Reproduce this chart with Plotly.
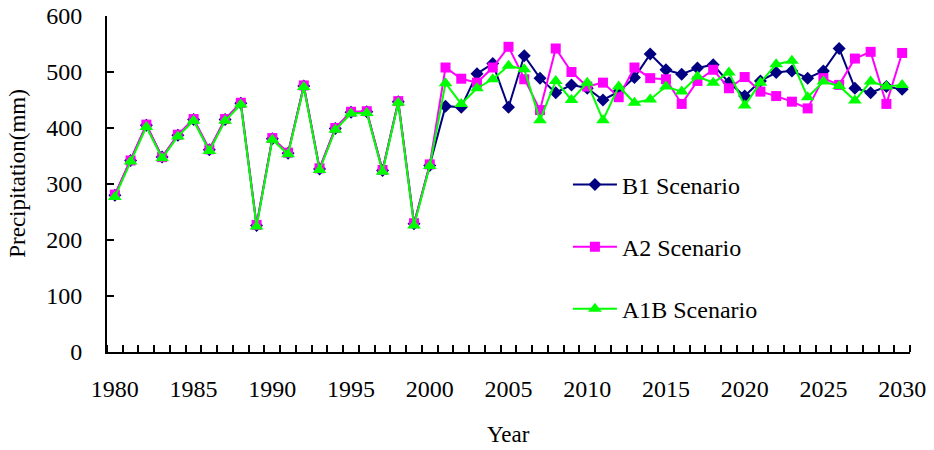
import plotly.graph_objects as go

years = list(range(1980, 2031))

b1 = [280, 342, 405, 348, 387, 415, 361, 415, 444, 226,
      381, 355, 475, 327, 399, 428, 429, 324, 447, 229,
      333, 439, 437, 497, 515, 437, 529, 489, 463, 477,
      471, 450, 465, 490, 532, 504, 496, 507, 513, 481,
      457, 484, 499, 502, 489, 502, 542, 471, 463, 474,
      469]
a2 = [281, 342, 406, 348, 388, 416, 362, 416, 445, 227,
      382, 356, 476, 328, 400, 429, 430, 325, 448, 230,
      335, 508, 488, 481, 508, 545, 487, 432, 542, 500,
      474, 481, 455, 508, 489, 487, 443, 484, 504, 471,
      491, 465, 457, 447, 435, 489, 477, 524, 536, 443,
      534]
a1b = [277, 340, 402, 346, 385, 413, 359, 413, 442, 224,
       379, 353, 473, 325, 397, 426, 427, 322, 445, 226,
       332, 480, 443, 471, 487, 511, 505, 414, 484, 450,
       481, 414, 474, 445, 451, 474, 465, 492, 481, 499,
       440, 481, 514, 520, 455, 483, 475, 449, 483, 474,
       477]

series_names = ["B1 Scenario", "A2 Scenario", "A1B Scenario"]
series_vals = [b1, a2, a1b]
colors = ["#000080", "#FF00FF", "#00FF00"]
symbols = ["diamond", "square", "triangle-up"]
sizes = [10, 10, 12]

xticks = list(range(1980, 2031, 5))
yticks = list(range(0, 601, 100))

FONT = "Liberation Serif"

fig = go.Figure()
for name, vals, c, s, sz in zip(series_names, series_vals, colors, symbols, sizes):
    fig.add_trace(go.Scatter(
        x=years, y=vals, name=name, mode="lines+markers",
        line=dict(color=c, width=2),
        marker=dict(symbol=s, size=sz, color=c, line=dict(width=0)),
        legendgroup=name,
    ))

fig.update_layout(
    width=934, height=450,
    margin=dict(l=107, r=24, t=16, b=98, autoexpand=False),
    paper_bgcolor="white", plot_bgcolor="white",
    font=dict(family=FONT, size=24, color="black"),
    showlegend=True,
    legend=dict(x=0.574, y=0.313, xanchor="left", yanchor="middle",
                bgcolor="rgba(0,0,0,0)", tracegroupgap=28,
                itemwidth=44, font=dict(size=24)),
    xaxis=dict(
        range=[1979.5, 2030.5], tickvals=xticks, ticks="",
        showline=True, linecolor="black", linewidth=2,
        showgrid=False, zeroline=False, ticklabelstandoff=14,
        automargin=False,
        minor=dict(tick0=1979.5, dtick=1, ticks="inside", ticklen=7,
                   tickcolor="black", tickwidth=2, showgrid=False),
    ),
    yaxis=dict(
        range=[0, 600], tickvals=yticks, ticks="inside", ticklen=7,
        tickcolor="black", tickwidth=2,
        showline=True, linecolor="black", linewidth=2,
        showgrid=False, zeroline=False, ticklabelstandoff=18,
        automargin=False,
    ),
    annotations=[
        dict(text="Year", xref="paper", yref="paper", x=0.5, y=-0.247,
             showarrow=False, font=dict(size=23), xanchor="center", yanchor="middle"),
        dict(text="Precipitation(mm)", xref="paper", yref="paper", x=-0.111, y=0.533,
             showarrow=False, font=dict(size=23), textangle=-90,
             xanchor="center", yanchor="middle"),
    ],
)

fig.write_html("out.html",
               config=dict(displayModeBar=False),
               post_script="document.body.style.margin='0';document.body.style.overflow='hidden';")
